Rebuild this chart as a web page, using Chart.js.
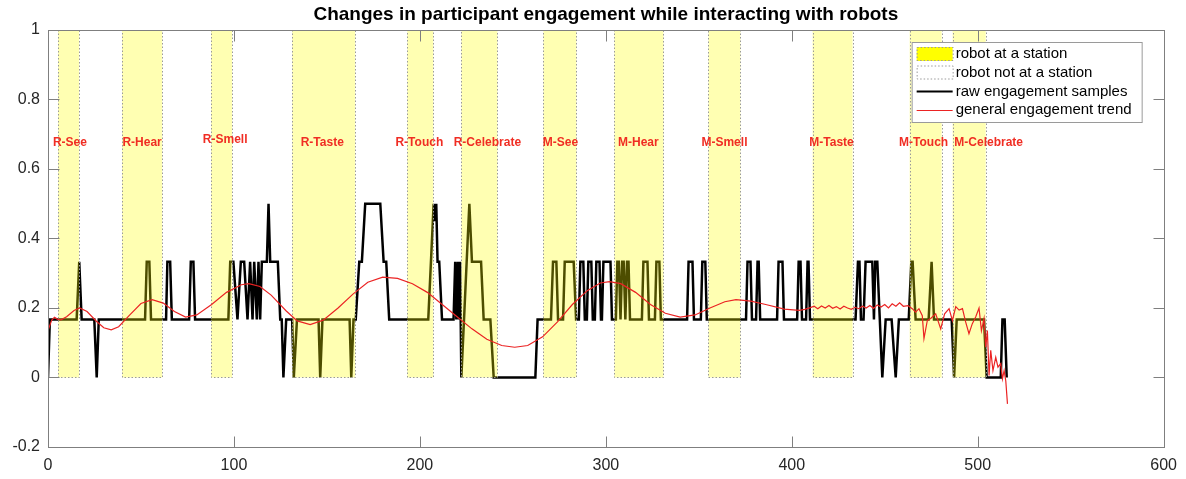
<!DOCTYPE html>
<html>
<head>
<meta charset="utf-8">
<title>Participant engagement</title>
<script src="https://cdn.jsdelivr.net/npm/chart.js@4.4.0/dist/chart.umd.min.js"></script>
<style>
    body { margin: 0; background: #fff; }
    #wrap { width: 1186px; height: 479px; }
</style>
</head>
<body>
<div id="wrap"><canvas id="engagementChart" width="1186" height="479"></canvas></div>
<script>
// Stations visited by the robots (sample index ranges)
const stationNames = ['R-See', 'R-Hear', 'R-Smell', 'R-Taste', 'R-Touch', 'R-Celebrate',
    'M-See', 'M-Hear', 'M-Smell', 'M-Taste', 'M-Touch', 'M-Celebrate'];
const stationStart = [5.4, 39.8, 87.7, 131.3, 193.2, 222.3, 266.4, 304.6, 355.2, 411.2, 463.4, 486.5];
const stationEnd = [16.7, 61.4, 99, 165.2, 207.2, 241.7, 284.2, 331, 372.4, 432.7, 480.6, 504.3];
const labelX = [11.8, 50.6, 95.3, 147.5, 199.7, 236.3, 275.6, 317.5, 363.8, 421.4, 470.9, 505.9];
const labelY = [0.676, 0.676, 0.684, 0.676, 0.676, 0.676, 0.676, 0.676, 0.676, 0.676, 0.676, 0.676];

// Raw engagement samples (breakpoints of the black trace)
const rawX = [0, 1, 15.4, 16.8, 18.1, 24.9, 26.2, 27.3,
    52.2, 53.1, 54.5, 55.4, 63.5, 64.2, 65.7, 66.6, 75.9, 76.8, 78.2, 79.1,
    97, 98, 99.7, 101.9, 103.7, 105.5, 107.3, 108.7, 110, 110.9, 112.3, 113.2, 114.1,
    115, 117.7, 118.6, 119.5, 123.6, 124.9, 125.7, 126.6, 128.1,
    131.3, 132.2, 133.9, 145.5, 146.4, 147.6, 162.2, 163.1, 164.3, 165.5,
    167.4, 168.8, 170.6, 178.7, 180.5, 181.9, 183.5,
    204.5, 207.4, 208, 208.8, 209.5, 210.4, 211.9, 218.1, 219, 219.6, 220.4, 221, 221.6, 222.3,
    226.6, 228, 232.9, 234.3, 237.9, 239.7, 262.1, 263.3, 270.5, 271.6, 273.4, 274.3,
    277, 277.9, 282.7, 284,
    285.5, 286.3, 287.9, 288.7, 289.8, 290.6, 292.2, 293, 294.1, 294.9, 296.6, 297.4,
    297.9, 298.7, 302.5, 303.3, 305.4, 306.2, 307, 307.9, 308.8, 309.6, 310.5,
    311.4, 312.2, 313, 319.4, 320.2, 322.4, 323.2, 326.4, 327.2, 328.8, 329.6,
    343.7, 344.5, 346.6, 347.4, 351.1, 351.9, 353.5, 354.3,
    375.4, 376.2, 377.8, 378.6, 380.8, 381.6, 382.2, 383, 392.1, 392.9, 395, 395.8,
    402.9, 403.7, 404.7, 405.5, 407.7, 408.5, 409, 409.8,
    434.3, 435.6, 436.4, 437.2, 438.6, 439.7, 443.3, 444.2, 444.9, 446, 448.7, 450.5,
    453.7, 455.9, 457.6, 462.9, 464.3, 465, 466.6, 473.6, 475.2, 476.5,
    486, 487.3, 488.7, 503.4, 504.8, 512.4, 513.3, 514.5, 515.6];
const rawY = [0, 0.167, 0.167, 0.333, 0.167, 0.167, 0, 0.167,
    0.167, 0.333, 0.333, 0.167, 0.167, 0.333, 0.333, 0.167, 0.167, 0.333, 0.333, 0.167,
    0.167, 0.333, 0.333, 0.167, 0.333, 0.333, 0.167, 0.333, 0.167, 0.333, 0.167, 0.333, 0.167,
    0.333, 0.333, 0.5, 0.333, 0.333, 0.167, 0.167, 0, 0.167,
    0.167, 0, 0.167, 0.167, 0, 0.167, 0.167, 0, 0.167, 0.167,
    0.333, 0.333, 0.5, 0.5, 0.333, 0.333, 0.167,
    0.167, 0.5, 0.45, 0.5, 0.333, 0.333, 0.167, 0.167, 0.333, 0.167, 0.333, 0.167, 0.333, 0,
    0.5, 0.333, 0.333, 0.167, 0.167, 0, 0, 0.167, 0.167, 0.333, 0.333, 0.167,
    0.167, 0.333, 0.333, 0.167,
    0.167, 0.333, 0.333, 0.167, 0.167, 0.333, 0.333, 0.167, 0.167, 0.333, 0.333, 0.167,
    0.167, 0.333, 0.333, 0.167, 0.167, 0.333, 0.333, 0.167, 0.333, 0.333, 0.167,
    0.333, 0.333, 0.167, 0.167, 0.333, 0.333, 0.167, 0.167, 0.333, 0.333, 0.167,
    0.167, 0.333, 0.333, 0.167, 0.167, 0.333, 0.333, 0.167,
    0.167, 0.333, 0.333, 0.167, 0.167, 0.333, 0.333, 0.167, 0.167, 0.333, 0.333, 0.167,
    0.167, 0.333, 0.333, 0.167, 0.167, 0.333, 0.333, 0.167,
    0.167, 0.333, 0.333, 0.167, 0.167, 0.333, 0.333, 0.167, 0.333, 0.333, 0, 0.167,
    0.167, 0, 0.167, 0.167, 0.333, 0.333, 0.167, 0.167, 0.333, 0.167,
    0.167, 0, 0.167, 0.167, 0, 0, 0.167, 0.167, 0];

// General engagement trend (red curve)
const trendX = [0, 2, 3.5, 5, 7, 10, 14, 17, 21, 26, 30, 34, 38, 44, 50, 56, 62, 68, 74, 80,
    88, 96, 104, 108, 114, 120, 128, 134, 141, 148, 156, 164, 172, 180, 188, 196, 204, 212,
    220, 228, 236, 244, 251, 258, 266, 274, 282, 290, 297, 302, 308, 316, 324, 332, 340,
    348, 356, 364, 370, 378, 386, 396, 404,
    407, 410, 412, 414, 416, 418, 420, 422, 424, 426, 428, 430, 432, 434, 436, 438, 440,
    442, 444, 446, 448, 450, 452, 454, 456, 458, 460, 462.5,
    464.8, 466.6, 468.4, 470.2, 471.1, 472.9, 474.7, 477.4, 480.1, 482.2, 484.6, 486.4,
    488.2, 490, 491.8, 493.5, 495.3, 497.1, 498.9, 500.7, 502, 503.4, 504.3, 505.2,
    506.1, 507, 508.2, 509.7, 510.9, 512.4, 513.3, 514.2, 515.1, 516];
const trendY = [0.135, 0.165, 0.173, 0.168, 0.166, 0.175, 0.193, 0.2, 0.19, 0.162, 0.143, 0.137,
    0.146, 0.18, 0.213, 0.224, 0.214, 0.19, 0.174, 0.18,
    0.21, 0.245, 0.267, 0.27, 0.262, 0.237, 0.192, 0.163, 0.152, 0.165, 0.2, 0.24, 0.274,
    0.289, 0.285, 0.27, 0.245, 0.21,
    0.175, 0.14, 0.11, 0.092, 0.087, 0.092, 0.117, 0.16, 0.21, 0.25, 0.272, 0.276, 0.27,
    0.245, 0.21, 0.185, 0.174,
    0.18, 0.2, 0.218, 0.224, 0.22, 0.21, 0.197, 0.193,
    0.196, 0.201, 0.205, 0.198, 0.206, 0.2, 0.207, 0.199, 0.204, 0.197, 0.205, 0.2, 0.196,
    0.202, 0.198, 0.205, 0.2,
    0.207, 0.199, 0.209, 0.203, 0.21, 0.2, 0.212, 0.205, 0.215, 0.205, 0.207,
    0.198, 0.188, 0.198, 0.178, 0.112, 0.164, 0.17, 0.183, 0.14, 0.183, 0.198, 0.164,
    0.204, 0.194, 0.198, 0.16, 0.126, 0.155, 0.174, 0.2, 0.135, 0.17, 0.087, 0.135,
    0.006, 0.078, 0.02, 0.058, 0.03, 0.04, -0.004, 0.02, -0.01, -0.076];

const xTicks = [0, 100, 200, 300, 400, 500, 600];
const yTicks = [-0.2, 0, 0.2, 0.4, 0.6, 0.8, 1];

const legendItems = ['robot at a station', 'robot not at a station',
    'raw engagement samples', 'general engagement trend'];

const axisColor = '#7f7f7f';
const textColor = '#262626';
const fontFamily = 'Helvetica, Arial, "Liberation Sans", sans-serif';

// yellow station bands go on top of the black trace, under the red one
const stationPlugin = {
    id: 'stations',
    afterDatasetDraw(chart, args) {
        if (args.index !== 1) return;
        const ctx = chart.ctx;
        const xs = chart.scales.x;
        const ys = chart.scales.y;
        const top = ys.getPixelForValue(1);
        const bottom = ys.getPixelForValue(0);
        ctx.save();
        for (let i = 0; i < stationStart.length; i++) {
            const left = xs.getPixelForValue(stationStart[i]);
            const right = xs.getPixelForValue(stationEnd[i]);
            ctx.fillStyle = 'rgba(255, 255, 0, 0.3)';
            ctx.fillRect(left, top, right - left, bottom - top);
            ctx.setLineDash([1.5, 2]);
            ctx.strokeStyle = '#9a9a9a';
            ctx.lineWidth = 1;
            ctx.strokeRect(Math.round(left) + 0.5, Math.round(top) + 0.5,
                Math.round(right - left), Math.round(bottom - top));
        }
        ctx.restore();
    }
};

const decorPlugin = {
    id: 'decor',
    afterDraw(chart) {
        const ctx = chart.ctx;
        const area = chart.chartArea;
        const xs = chart.scales.x;
        const ys = chart.scales.y;
        ctx.save();

        // station names
        ctx.font = 'bold 12px ' + fontFamily;
        ctx.fillStyle = 'rgb(240, 45, 35)';
        ctx.textAlign = 'center';
        ctx.textBaseline = 'middle';
        stationNames.forEach((name, i) => {
            ctx.fillText(name, xs.getPixelForValue(labelX[i]), ys.getPixelForValue(labelY[i]));
        });

        // box and inward ticks
        ctx.strokeStyle = axisColor;
        ctx.lineWidth = 1;
        ctx.setLineDash([]);
        const l = Math.round(area.left) + 0.5, r = Math.round(area.right) + 0.5;
        const t = Math.round(area.top) + 0.5, b = Math.round(area.bottom) + 0.5;
        ctx.strokeRect(l, t, r - l, b - t);
        ctx.beginPath();
        xTicks.forEach(v => {
            const px = Math.round(xs.getPixelForValue(v)) + 0.5;
            ctx.moveTo(px, b); ctx.lineTo(px, b - 11);
            ctx.moveTo(px, t); ctx.lineTo(px, t + 11);
        });
        yTicks.forEach(v => {
            const py = Math.round(ys.getPixelForValue(v)) + 0.5;
            ctx.moveTo(l, py); ctx.lineTo(l + 11, py);
            ctx.moveTo(r, py); ctx.lineTo(r - 11, py);
        });
        ctx.stroke();

        // title
        ctx.font = 'bold 19px ' + fontFamily;
        ctx.fillStyle = '#000';
        ctx.textAlign = 'center';
        ctx.fillText('Changes in participant engagement while interacting with robots',
            (area.left + area.right) / 2, 15);

        // legend
        const lx = area.right - 252, ly = area.top + 12, lw = 230, lh = 80;
        ctx.fillStyle = '#fff';
        ctx.fillRect(lx, ly, lw, lh);
        ctx.strokeStyle = '#9a9a9a';
        ctx.strokeRect(lx + 0.5, ly + 0.5, lw, lh);
        const rows = [ly + 12, ly + 30.5, ly + 49.5, ly + 68];
        const sx = lx + 5, sw = 36;
        ctx.setLineDash([1.5, 2]);
        ctx.fillStyle = '#ffff00';
        ctx.fillRect(sx, rows[0] - 7, sw, 14);
        ctx.strokeStyle = '#9a9a9a';
        ctx.strokeRect(sx + 0.5, rows[0] - 6.5, sw, 13);
        ctx.strokeRect(sx + 0.5, rows[1] - 6.5, sw, 13);
        ctx.setLineDash([]);
        ctx.beginPath();
        ctx.strokeStyle = '#000';
        ctx.lineWidth = 2;
        ctx.moveTo(sx, rows[2]); ctx.lineTo(sx + sw, rows[2]);
        ctx.stroke();
        ctx.beginPath();
        ctx.strokeStyle = 'rgb(235, 35, 35)';
        ctx.lineWidth = 1;
        ctx.moveTo(sx, rows[3] + 0.5); ctx.lineTo(sx + sw, rows[3] + 0.5);
        ctx.stroke();
        ctx.font = '15px ' + fontFamily;
        ctx.fillStyle = '#000';
        ctx.textAlign = 'left';
        legendItems.forEach((txt, i) => ctx.fillText(txt, sx + sw + 3, rows[i]));

        ctx.restore();
    }
};

function toPoints(xs, ys) {
    return xs.map((x, i) => ({ x: x, y: ys[i] }));
}

document.addEventListener('DOMContentLoaded', function() {
    const ctx = document.getElementById('engagementChart');
    new Chart(ctx, {
        type: 'line',
        data: {
            datasets: [{
                label: 'general engagement trend',
                data: toPoints(trendX, trendY),
                borderColor: 'rgb(235, 35, 35)',
                borderWidth: 1.2,
                pointRadius: 0,
                tension: 0,
                order: 0
            }, {
                label: 'raw engagement samples',
                data: toPoints(rawX, rawY),
                borderColor: '#000',
                borderWidth: 2.5,
                pointRadius: 0,
                tension: 0,
                order: 1
            }]
        },
        options: {
            responsive: false,
            animation: false,
            devicePixelRatio: 1,
            layout: { padding: { top: 30, right: 20, left: 0, bottom: 0 } },
            plugins: {
                legend: { display: false },
                tooltip: { enabled: false }
            },
            scales: {
                x: {
                    type: 'linear',
                    min: 0,
                    max: 600,
                    afterBuildTicks: s => { s.ticks = xTicks.map(v => ({ value: v })); },
                    afterFit: s => { s.height = 32; },
                    grid: { display: false, drawTicks: false },
                    border: { display: false },
                    ticks: {
                        padding: 9,
                        maxRotation: 0,
                        color: textColor,
                        font: { family: fontFamily, size: 16 }
                    }
                },
                y: {
                    type: 'linear',
                    min: -0.2,
                    max: 1,
                    afterBuildTicks: s => { s.ticks = yTicks.map(v => ({ value: v })); },
                    afterFit: s => { s.width = 48; },
                    grid: { display: false, drawTicks: false },
                    border: { display: false },
                    ticks: {
                        padding: 8,
                        color: textColor,
                        font: { family: fontFamily, size: 16 },
                        callback: v => String(Number(v.toFixed(1)))
                    }
                }
            }
        },
        plugins: [stationPlugin, decorPlugin]
    });
});
</script>
</body>
</html>
